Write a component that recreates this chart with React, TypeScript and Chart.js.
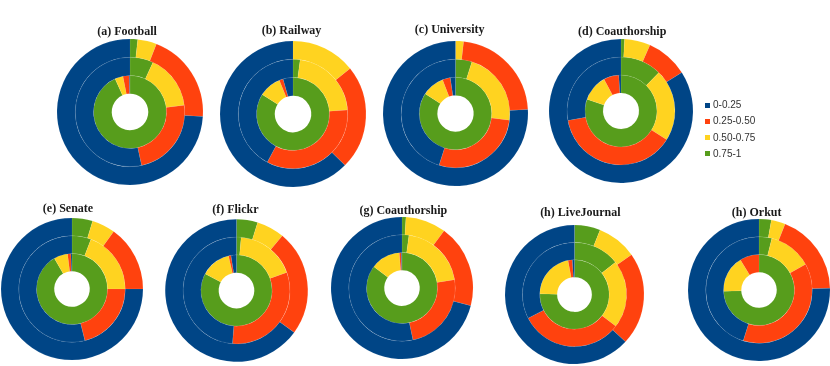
import React, { useEffect, useRef } from "react";
import { Chart, registerables } from "chart.js";

Chart.register(...registerables);

// Bins (legend order) and their colours
const BINS = ["0-0.25", "0.25-0.50", "0.50-0.75", "0.75-1"];
const BIN_COLORS = ["#004586", "#ff420e", "#ffd320", "#579d1c"];

// Percent of nodes per bin, ordered as BINS: [0-0.25, 0.25-0.50, 0.50-0.75, 0.75-1]
// Each chart has three rings: outer, middle, inner.
const footballOuter = [74.0, 20.1, 4.2, 1.7];
const footballMiddle = [53.4, 23.6, 16.1, 6.9];
const footballInner = [0.3, 2.8, 3.6, 93.3];

const railwayOuter = [62.6, 23.1, 14.3, 0];
const railwayMiddle = [42.2, 34.0, 21.7, 2.1];
const railwayInner = [4.4, 1.7, 9.9, 84.0];

const universityOuter = [75.9, 22.3, 1.8, 0];
const universityMiddle = [45.1, 27.9, 22.1, 4.9];
const universityInner = [2.3, 3.5, 10.0, 84.2];

const coauthorDOuter = [84.0, 9.4, 5.8, 0.8];
const coauthorDMiddle = [27.8, 38.3, 21.5, 12.4];
const coauthorDInner = [1.0, 6.8, 11.9, 80.3];

const senateOuter = [75.0, 15.0, 5.3, 4.7];
const senateMiddle = [53.9, 21.1, 19.2, 5.8];
const senateInner = [0.5, 1.5, 6.3, 91.7];

const flickrOuter = [65.0, 23.9, 6.3, 4.8];
const flickrMiddle = [48.8, 31.7, 18.1, 1.4];
const flickrInner = [2.5, 1.1, 13.6, 82.8];

const coauthorGOuter = [71.0, 18.9, 9.2, 0.9];
const coauthorGMiddle = [53.3, 24.2, 20.4, 2.1];
const coauthorGInner = [0.3, 0.9, 13.5, 85.3];

const liveJournalOuter = [63.1, 21.6, 9.3, 6.0];
const liveJournalMiddle = [32.5, 32.1, 21.0, 14.4];
const liveJournalInner = [1.0, 2.0, 21.7, 75.3];

const orkutOuter = [75.4, 18.6, 3.2, 2.8];
const orkutMiddle = [45.2, 37.8, 13.1, 3.9];
const orkutInner = [0, 8.8, 16.8, 74.4];

const TITLES = [
  "(a) Football",
  "(b) Railway",
  "(c) University",
  "(d) Coauthorship",
  "(e) Senate",
  "(f) Flickr",
  "(g) Coauthorship",
  "(h) LiveJournal",
  "(h) Orkut",
];

const RINGS = [
  [footballOuter, footballMiddle, footballInner],
  [railwayOuter, railwayMiddle, railwayInner],
  [universityOuter, universityMiddle, universityInner],
  [coauthorDOuter, coauthorDMiddle, coauthorDInner],
  [senateOuter, senateMiddle, senateInner],
  [flickrOuter, flickrMiddle, flickrInner],
  [coauthorGOuter, coauthorGMiddle, coauthorGInner],
  [liveJournalOuter, liveJournalMiddle, liveJournalInner],
  [orkutOuter, orkutMiddle, orkutInner],
];

// Layout (pixels): chart centre, radius, title centre
const LAYOUT = [
  { cx: 129.5, cy: 112, r: 73, tx: 127, ty: 30.5 },
  { cx: 292.5, cy: 113.5, r: 73, tx: 291.5, ty: 29.7 },
  { cx: 455, cy: 113.5, r: 72.5, tx: 449.7, ty: 28.7 },
  { cx: 620.5, cy: 111, r: 72, tx: 622.2, ty: 30.5 },
  { cx: 71.5, cy: 289.3, r: 71, tx: 68, ty: 207.5 },
  { cx: 236.2, cy: 290.3, r: 71.3, tx: 235.3, ty: 208.8 },
  { cx: 402, cy: 288.3, r: 71, tx: 403.3, ty: 210 },
  { cx: 574.7, cy: 294, r: 69.5, tx: 580.3, ty: 212.2 },
  { cx: 758.5, cy: 290.3, r: 71, tx: 756.7, ty: 212.2 },
];

function Donut({ idx }: { idx: number }) {
  const ref = useRef<HTMLCanvasElement>(null);
  const lay = LAYOUT[idx];
  const size = Math.ceil(lay.r * 2 + 6);
  useEffect(() => {
    if (!ref.current) return;
    // drawn clockwise from 12 o'clock: 0.75-1, 0.50-0.75, 0.25-0.50, 0-0.25
    const chart = new Chart(ref.current, {
      type: "doughnut",
      data: {
        labels: [...BINS].reverse(),
        datasets: RINGS[idx].map((ring) => ({
          data: [...ring].reverse(),
          backgroundColor: [...BIN_COLORS].reverse(),
          borderWidth: 1,
          borderColor: "rgba(255,255,255,0.07)",
        })),
      },
      options: {
        responsive: false,
        animation: false,
        events: [],
        radius: lay.r,
        cutout: "25%",
        layout: { padding: 0 },
        plugins: {
          legend: { display: false },
          tooltip: { enabled: false },
          title: { display: false },
        },
      } as any,
    });
    return () => chart.destroy();
  }, [idx]);
  return (
    <canvas
      ref={ref}
      width={size}
      height={size}
      style={{
        position: "absolute",
        left: Math.round(lay.cx - size / 2),
        top: Math.round(lay.cy - size / 2),
        width: size,
        height: size,
      }}
    />
  );
}

export default function App() {
  const legendY = [105, 121.3, 137.5, 153.5];
  return (
    <div
      style={{
        position: "absolute",
        left: 0,
        top: 0,
        width: 830,
        height: 366,
        background: "#ffffff",
        overflow: "hidden",
      }}
    >
      {LAYOUT.map((lay, i) => (
        <React.Fragment key={i}>
          <Donut idx={i} />
          <div
            style={{
              position: "absolute",
              left: lay.tx - 100,
              top: lay.ty - 8,
              width: 200,
              height: 16,
              lineHeight: "16px",
              textAlign: "center",
              fontFamily: "'Liberation Serif', serif",
              fontWeight: "bold",
              fontSize: 12,
              color: "#1a1a1a",
              whiteSpace: "nowrap",
            }}
          >
            {TITLES[i]}
          </div>
        </React.Fragment>
      ))}
      {BINS.map((b, i) => (
        <React.Fragment key={b}>
          <div
            style={{
              position: "absolute",
              left: 705,
              top: legendY[i] - 2.5,
              width: 5,
              height: 5,
              background: BIN_COLORS[i],
            }}
          />
          <div
            style={{
              position: "absolute",
              left: 713,
              top: legendY[i] - 7,
              height: 14,
              lineHeight: "14px",
              fontFamily: "'Liberation Sans', Arial, sans-serif",
              fontSize: 10,
              color: "#333333",
              whiteSpace: "nowrap",
            }}
          >
            {b}
          </div>
        </React.Fragment>
      ))}
    </div>
  );
}
